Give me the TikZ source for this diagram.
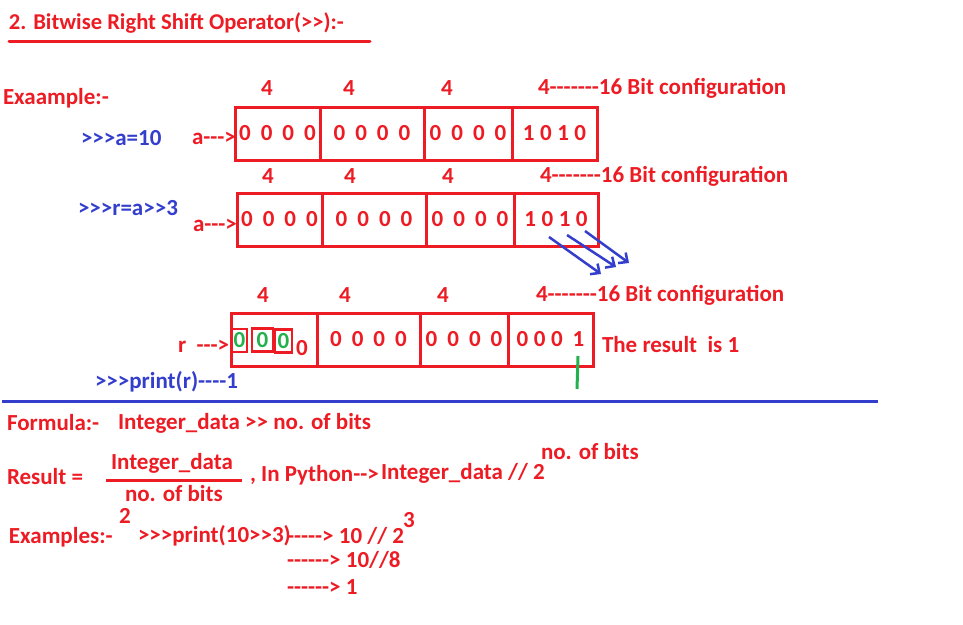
\documentclass[tikz,border=0pt]{standalone}
\usepackage{fontspec}
\setmainfont{Carlito}[Ligatures=TeXOff]
\usetikzlibrary{arrows.meta,positioning}
\definecolor{TextClr}{RGB}{237,28,36}
\definecolor{CodeClr}{RGB}{52,62,204}
\definecolor{MarkClr}{RGB}{34,177,76}
\newcommand{\gapW}{\hspace{10pt}}
\newcommand{\gapN}{\hspace{5.5pt}}

\begin{document}
\begin{tikzpicture}[x=1pt,y=-1pt,
  txt/.style={text=TextClr,font=\fontsize{23}{27}\selectfont\bfseries,inner sep=0pt,outer sep=0pt,anchor=west},
  code/.style={txt,text=CodeClr},
  cell/.style={txt,draw=TextClr,line width=3pt,minimum height=53pt,anchor=north west},
  bitbox/.style={txt,draw=TextClr,line width=2.5pt,text=MarkClr,anchor=center,minimum height=23pt},
  shiftarrow/.style={draw=CodeClr,line width=2.5pt,-{Straight Barb[length=7pt,width=13pt]}},
  node distance=0pt]
\fill[white] (0,0) rectangle (963,624);
\useasboundingbox (0,0) rectangle (963,624);

% title
\node[txt,font=\fontsize{22.6}{26}\selectfont\bfseries] (title) at (9,23) {2. Bitwise Right Shift Operator(>>):-};
\draw[TextClr,line width=3pt,line cap=round] (9,41) -- (370,41);

\node[txt] (exa) at (3,98) {Exaample:-};

% a = 10
\node[txt,anchor=center] (w11) at (267,88) {4};
\node[txt,anchor=center] (w12) at (349,88) {4};
\node[txt,anchor=center] (w13) at (447,88) {4};
\node[txt] (w14) at (538,88) {4-------16 Bit configuration};
\node[code] (cmdA) at (81,138) {>>>a=10};
\node[txt] (ptrA) at (192,138) {a--->};
\node[cell,minimum width=85pt] (a1) at (235,107) {0\gapW0\gapW0\gapW0};
\node[cell,minimum width=104pt,right=of a1] (a2) {0\gapW0\gapW0\gapW0};
\node[cell,minimum width=88pt,right=of a2] (a3) {0\gapW0\gapW0\gapW0};
\node[cell,minimum width=85pt,right=of a3] (a4) {1\gapN0\gapN1\gapN0};

% r = a >> 3
\node[txt,anchor=center] (w21) at (268,176) {4};
\node[txt,anchor=center] (w22) at (350,176) {4};
\node[txt,anchor=center] (w23) at (448,176) {4};
\node[txt] (w24) at (540,176) {4-------16 Bit configuration};
\node[code] (cmdR) at (78,208) {>>>r=a>>3};
\node[txt] (ptrB) at (193,225) {a--->};
\node[cell,minimum width=85pt] (b1) at (237,193) {0\gapW0\gapW0\gapW0};
\node[cell,minimum width=104pt,right=of b1] (b2) {0\gapW0\gapW0\gapW0};
\node[cell,minimum width=88pt,right=of b2] (b3) {0\gapW0\gapW0\gapW0};
\node[cell,minimum width=84pt,right=of b3] (b4) {1\gapN0\gapN1\gapN0};

\coordinate (s1) at (549,237); \coordinate (e1) at (601,274);
\coordinate (s2) at (567,235); \coordinate (e2) at (616,267);
\coordinate (s3) at (585,231); \coordinate (e3) at (629,263);
\draw[shiftarrow] (s1) -- (e1);
\draw[shiftarrow] (s2) -- (e2);
\draw[shiftarrow] (s3) -- (e3);

% result
\node[txt,anchor=center] (w31) at (263,295) {4};
\node[txt,anchor=center] (w32) at (345,295) {4};
\node[txt,anchor=center] (w33) at (443,295) {4};
\node[txt] (w34) at (536,295) {4-------16 Bit configuration};
\node[txt] (ptrR) at (178,346) {r\ \ --->};
\node[cell,minimum width=86pt] (c1) at (231,313) {};
\node[cell,minimum width=103pt,right=of c1] (c2) {0\gapW0\gapW0\gapW0};
\node[cell,minimum width=88pt,right=of c2] (c3) {0\gapW0\gapW0\gapW0};
\node[cell,minimum width=85pt,right=of c3] (c4) {0\gapN0\gapN0\gapW1};
\node[bitbox,minimum width=15pt] (z1) at (239.5,340.5) {0};
\node[bitbox,minimum width=21pt] (z2) at (262.5,340) {0};
\node[bitbox,minimum width=17pt] (z3) at (283.5,341) {0};
\node[txt] (z4) at (296,348) {0};
\node[txt] (res) at (602,345) {The result\ \ is 1};
\draw[MarkClr,line width=3pt] (578,356) -- (577,389);
\node[code] (prt) at (95,382) {>>>print(r)----1};

\draw[CodeClr,line width=3pt] (2,401) -- (878,401);

% formula
\node[txt] (form) at (7,423) {Formula:-};
\node[txt] (formR) at (118,423) {Integer\_data >> no. of bits};
\node[txt] (rlab) at (7,477) {Result =};
\node[txt] (num) at (111,463) {Integer\_data};
\draw[TextClr,line width=3pt] (106,480) -- (242,480);
\node[txt] (den) at (125,494) {no. of bits};
\node[txt] (denB) at (119,516) {2};
\node[txt] (py) at (250,475) {, In Python-->};
\node[txt] (pyR) at (381,473) {Integer\_data // 2};
\node[txt] (pyE) at (541,452) {no. of bits};

\node[txt] (exs) at (9,537) {Examples:-};
\node[txt] (ex1) at (138,536) {>>>print(10>>3)};
\node[txt] (ex2) at (287,536) {-----> 10 // 2};
\node[txt] (ex2E) at (403,520) {3};
\node[txt] (ex3) at (287,560) {------> 10//8};
\node[txt] (ex4) at (287,587) {------> 1};
\end{tikzpicture}
\end{document}
